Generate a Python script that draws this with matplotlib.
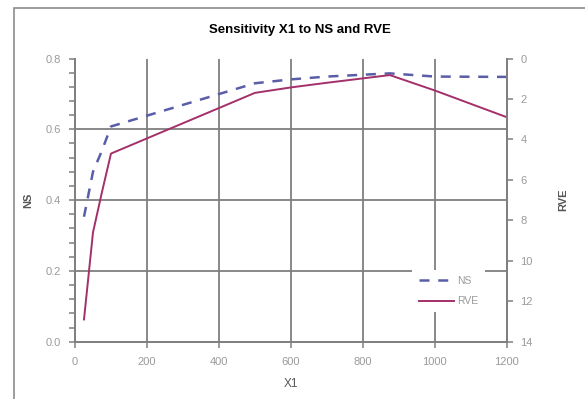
import matplotlib.pyplot as plt
from matplotlib.lines import Line2D
from matplotlib.patches import Rectangle
from matplotlib.ticker import MultipleLocator, FormatStrFormatter

plt.rcParams['font.family'] = ['Liberation Sans', 'DejaVu Sans']

# X1 sweep and the two responses
x1 = [25, 50, 75, 100, 500, 600, 700, 875, 1000, 1200]
ns = [0.353, 0.48, 0.54, 0.608, 0.73, 0.741, 0.749, 0.758, 0.749, 0.748]
x1_rve = [25, 50, 75, 100, 500, 600, 700, 875, 1000, 1200]
rve = [12.9, 8.6, 6.6, 4.7, 1.7, 1.43, 1.2, 0.82, 1.58, 2.9]

x_ticks = [0, 200, 400, 600, 800, 1000, 1200]
ns_ticks = [0.0, 0.2, 0.4, 0.6, 0.8]
rve_ticks = [0, 2, 4, 6, 8, 10, 12, 14]

grey = '#7f7f7f'
lbl = '#9a9a9a'
ns_col = '#5a5ea8'
rve_col = '#a3306a'

fig = plt.figure(figsize=(5.85, 3.99), dpi=100)
fig.patches.append(Rectangle((14 / 585, -0.1), 1.2, 1 - 8 / 399 + 0.1,
                             transform=fig.transFigure, fill=False,
                             edgecolor='#8c8c8c', lw=1.2))

ax = fig.add_axes([75 / 585, 1 - 341.7 / 399, 431.7 / 585, 283.2 / 399])
ax2 = ax.twinx()

ax.plot(x1, ns, color=ns_col, lw=1.8, dashes=(4, 3.5))
ax2.plot(x1_rve, rve, color=rve_col, lw=1.4)

ax.set_xlim(0, 1200)
ax.set_ylim(0, 0.8)
ax2.set_ylim(14, 0)
ax.set_xticks(x_ticks)
ax.set_xticklabels([str(v) for v in x_ticks])
ax.set_yticks(ns_ticks)
ax.yaxis.set_major_formatter(FormatStrFormatter('%.1f'))
ax.yaxis.set_minor_locator(MultipleLocator(0.04))
ax2.set_yticks(rve_ticks)

# grid lines inside the plot area only
for v in x_ticks[1:-1]:
    ax.axvline(v, color=grey, lw=1.3, zorder=0)
for v in ns_ticks[1:-1]:
    ax.axhline(v, color=grey, lw=1.3, zorder=0)

for a in (ax, ax2):
    a.spines['top'].set_visible(False)
    for s in ('left', 'right', 'bottom'):
        a.spines[s].set_color(grey)
        a.spines[s].set_linewidth(1.3)
    a.tick_params(colors=grey, labelcolor=lbl, labelsize=8, width=1.1, length=4)
ax.tick_params(axis='y', which='minor', color=grey, width=1.1, length=4)
ax.tick_params(axis='y', pad=6)
ax2.tick_params(axis='y', pad=6)
ax.tick_params(axis='x', pad=7)

ax.set_xlabel('X1', fontsize=8.5, color='#555555', labelpad=8)
ax.set_ylabel('NS', fontsize=8, color='#555555', fontweight='bold', labelpad=9)
ax2.set_ylabel('RVE', fontsize=8, color='#555555', fontweight='bold', labelpad=18)

fig.text(0.513, 1 - 30 / 399, 'Sensitivity X1 to NS and RVE', ha='center',
         va='center', fontsize=9.5, fontweight='bold')

handles = [Line2D([], [], color=ns_col, lw=1.8, dashes=(4, 3.5)),
           Line2D([], [], color=rve_col, lw=1.4)]
leg = ax2.legend(handles, ['NS', 'RVE'], loc='center', bbox_to_anchor=(0.865, 0.179),
                 fontsize=7.5, frameon=True, framealpha=1, edgecolor='none',
                 facecolor='white', handlelength=3.4, handletextpad=0.3,
                 labelspacing=1.0, borderpad=0.6, fancybox=False)
for t in leg.get_texts():
    t.set_color(lbl)

fig.savefig('out.png', dpi=100)
